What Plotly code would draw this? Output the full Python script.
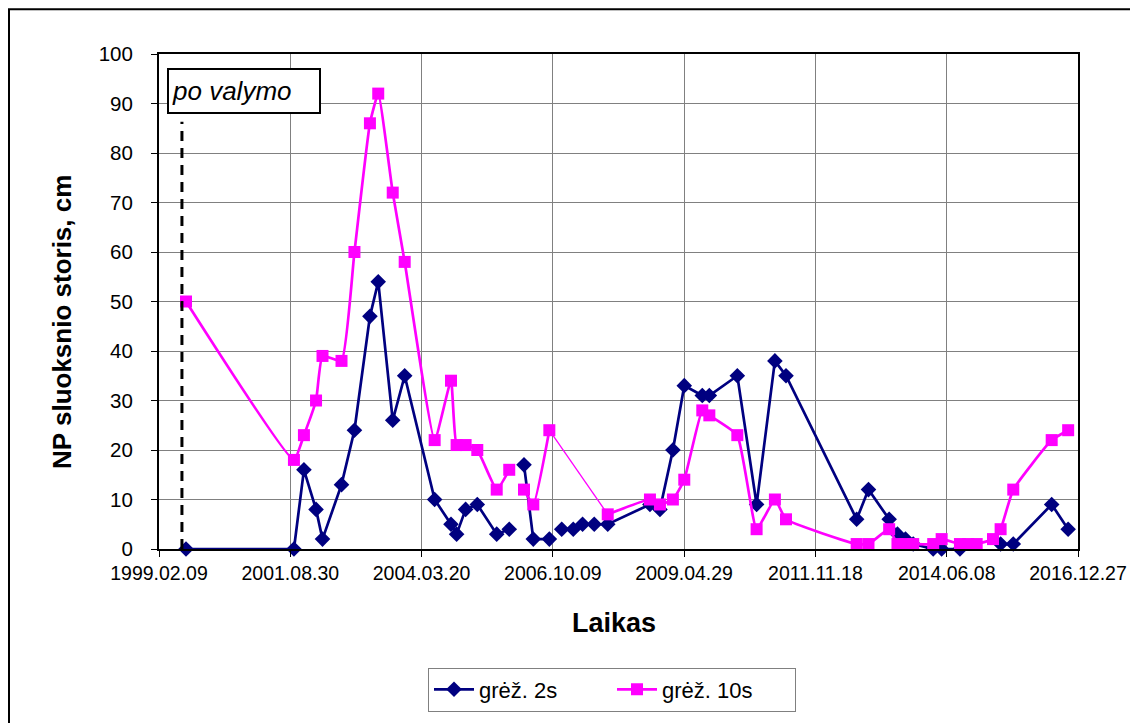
import plotly.graph_objects as go

# ---- data ----
dates = [
    "1999-08-20", "2001-09-25", "2001-12-05", "2002-03-01", "2002-04-16", "2002-08-29",
    "2002-11-29", "2003-03-19", "2003-05-17", "2003-08-28", "2003-11-21", "2004-06-21",
    "2004-10-15", "2004-11-24", "2005-01-27", "2005-04-20", "2005-09-05", "2005-12-03",
    "2006-01-20",
    "2006-03-18", "2006-05-23", "2006-09-14",
    "2006-10-30",
    "2006-12-11", "2007-03-03", "2007-05-08", "2007-07-30", "2007-11-03", "2008-08-29",
    "2008-11-08", "2009-02-08", "2009-04-30", "2009-09-05", "2009-10-25", "2010-05-12",
    "2010-09-26", "2011-02-03", "2011-04-23", "2012-09-06", "2012-11-29", "2013-04-25",
    "2013-06-23", "2013-08-19", "2013-10-13", "2014-03-04", "2014-05-03", "2014-09-10",
    "2014-11-08", "2015-01-07", "2015-05-03", "2015-06-26", "2015-09-24", "2016-06-23",
    "2016-10-18",
]
grez_2s = [
    0, 0, 16, 8, 2, 13,
    24, 47, 54, 26, 35, 10,
    5, 3, 8, 9, 3, 4,
    None,
    17, 2, 2,
    None,
    4, 4, 5, 5, 5, 9,
    8, 20, 33, 31, 31, 35,
    9, 38, 35, 6, 12, 6,
    3, 2, 1, 0, 0, 0,
    None, None, None, 1, 1, 9,
    4,
]
grez_10s = [
    50, 18, 23, 30, 39, 38,
    60, 86, 92, 72, 58, 22,
    34, 21, 21, 20, 12, 16,
    None,
    12, 9, 24,
    None,
    None, None, None, None, 7, 10,
    9, 10, 14, 28, 27, 23,
    4, 10, 6, 1, 1, 4,
    1, 1, 1, 1, 2, 1,
    1, 1, 2, 4, 12, 22,
    24,
]
# thin connector drawn between these two points of the 10s series
thin_from, thin_to = "2006-09-14", "2007-11-03"

tick_dates = ["1999-02-09", "2001-08-30", "2004-03-20", "2006-10-09",
              "2009-04-29", "2011-11-18", "2014-06-08", "2016-12-27"]
tick_labels = ["1999.02.09", "2001.08.30", "2004.03.20", "2006.10.09",
               "2009.04.29", "2011.11.18", "2014.06.08", "2016.12.27"]
cleaning_date = "1999-07-22"
cleaning_label = "po valymo"

NAVY = "#000080"
MAG = "#FF00FF"
FONT = "Arial, Liberation Sans, sans-serif"

# figure is placed 8px in from the page edge by the page margin
W, H = 1130, 715
ML, MT, PW, PH = 151, 46, 919, 497

fig = go.Figure()
fig.add_trace(go.Scatter(
    x=dates, y=grez_2s, name="grėž. 2s", mode="lines+markers",
    line=dict(color=NAVY, width=2.7),
    marker=dict(symbol="diamond", size=12, color=NAVY),
    cliponaxis=False, connectgaps=False,
))
fig.add_trace(go.Scatter(
    x=dates, y=grez_10s, name="grėž. 10s", mode="lines+markers",
    line=dict(color=MAG, width=2.7, shape="spline", smoothing=0.4),
    marker=dict(symbol="square", size=12, color=MAG),
    cliponaxis=False, connectgaps=False,
))
i0, i1 = dates.index(thin_from), dates.index(thin_to)
fig.add_trace(go.Scatter(
    x=[dates[i0], dates[i1]], y=[grez_10s[i0], grez_10s[i1]],
    mode="lines", line=dict(color=MAG, width=1.3), showlegend=False,
    hoverinfo="skip",
))

# dashed "cleaning" marker line
fig.add_shape(type="line", xref="x", yref="y", x0=cleaning_date, x1=cleaning_date,
              y0=0, y1=86.3, line=dict(color="black", width=3, dash="10px,7px"),
              layer="above")
fig.add_annotation(
    text="<i>" + cleaning_label + "</i>", xref="paper", yref="paper", x=0.0087, y=0.972,
    xanchor="left", yanchor="top", showarrow=False, align="left",
    font=dict(family=FONT, size=26, color="black"),
    bordercolor="black", borderwidth=2, borderpad=3, bgcolor="white",
    width=144, height=36,
)

# axis titles as annotations
fig.add_annotation(text="<b>NP sluoksnio storis, cm</b>", xref="paper", yref="paper",
                   x=(62 - 8 - ML) / PW, y=(550 - 322) / PH, xanchor="center", yanchor="middle",
                   textangle=-90, showarrow=False,
                   font=dict(family=FONT, size=26, color="black"))
fig.add_annotation(text="<b>Laikas</b>", xref="paper", yref="paper",
                   x=(614 - 8 - ML) / PW, y=-(625 - 8 - MT - PH) / PH,
                   xanchor="center", yanchor="middle", showarrow=False,
                   font=dict(family=FONT, size=27, color="black"))

# outer chart frame
fig.add_shape(type="rect", xref="paper", yref="paper",
              x0=(1 - ML) / PW, x1=1.09, y0=-0.4, y1=(MT + PH - 1) / PH,
              line=dict(color="black", width=2), layer="below")

fig.update_xaxes(
    type="date", range=[tick_dates[0], tick_dates[-1]],
    tickvals=tick_dates, ticktext=tick_labels,
    showgrid=True, gridcolor="#808080", gridwidth=1,
    showline=True, linecolor="black", linewidth=2, mirror=True,
    ticks="outside", ticklen=6, tickcolor="black",
    tickfont=dict(family=FONT, size=19.5, color="black"),
    zeroline=False,
)
fig.update_yaxes(
    range=[0, 100], dtick=10,
    showgrid=True, gridcolor="#808080", gridwidth=1,
    showline=True, linecolor="black", linewidth=2, mirror=True,
    ticks="outside", ticklen=6, tickcolor="black", ticklabelstandoff=14,
    tickfont=dict(family=FONT, size=20.5, color="black"),
    zeroline=False,
)
fig.update_layout(
    width=W, height=H,
    margin=dict(l=ML, r=W - ML - PW, t=MT, b=H - MT - PH),
    paper_bgcolor="white", plot_bgcolor="white",
    font=dict(family=FONT, color="black"),
    showlegend=True,
    legend=dict(orientation="h", x=(612 - 8 - ML) / PW, xanchor="center",
                y=-(670 - 8 - MT - PH) / PH, yanchor="top",
                bordercolor="#808080", borderwidth=1, bgcolor="white",
                font=dict(family=FONT, size=22, color="black"),
                entrywidth=128, itemwidth=40),
)

fig.write_html("out.html")
